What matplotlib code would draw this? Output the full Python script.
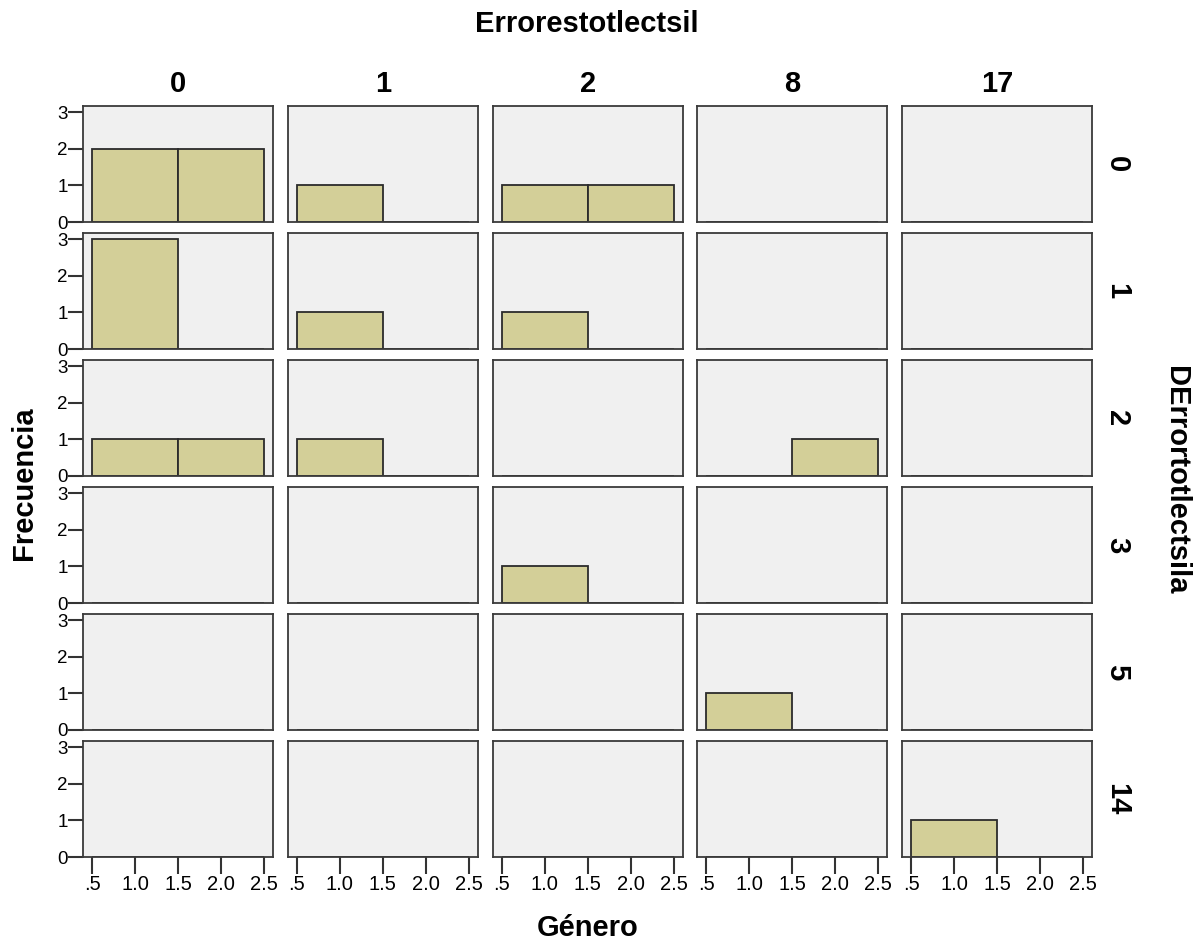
import numpy as np
import matplotlib.pyplot as plt

plt.rcParams['font.family'] = ['Liberation Sans', 'DejaVu Sans']

# panel facets
col_vals = ['0', '1', '2', '8', '17']          # Errorestotlectsil
row_vals = ['0', '1', '2', '3', '5', '14']     # DErrortotlectsila
genero = [1, 2]

# frequency of Género (1, 2) for each row/column cell
counts_r0 = [[2, 2], [1, 0], [1, 1], [0, 0], [0, 0]]
counts_r1 = [[3, 0], [1, 0], [1, 0], [0, 0], [0, 0]]
counts_r2 = [[1, 1], [1, 0], [0, 0], [0, 1], [0, 0]]
counts_r3 = [[0, 0], [0, 0], [1, 0], [0, 0], [0, 0]]
counts_r5 = [[0, 0], [0, 0], [0, 0], [1, 0], [0, 0]]
counts_r14 = [[0, 0], [0, 0], [0, 0], [0, 0], [1, 0]]
counts = [counts_r0, counts_r1, counts_r2, counts_r3, counts_r5, counts_r14]

xticks = [0.5, 1.0, 1.5, 2.0, 2.5]
xticklabels = ['.5', '1.0', '1.5', '2.0', '2.5']
yticks = [0, 1, 2, 3]

W, H = 1201, 940
fig = plt.figure(figsize=(W / 100, H / 100), dpi=100)

left0, col_step, pw = 83, 204.8, 190
top0, row_step, ph = 106, 127, 116

bar_color = '#d3cf98'
bg = '#f0f0f0'
label_size = 21


def fx(px):
    return px / W


def fy(py):
    return 1 - py / H


for r in range(len(row_vals)):
    for c in range(len(col_vals)):
        x0 = left0 + c * col_step
        y0 = top0 + r * row_step
        ax = fig.add_axes([fx(x0), fy(y0 + ph), pw / W, ph / H])
        ax.set_facecolor(bg)
        vals = counts[r][c]
        ax.bar(genero, vals, width=1.0, color=bar_color, edgecolor='#2b2b2b',
               linewidth=1.3)
        ax.set_xlim(0.395, 2.605)
        ax.set_ylim(0, 3.17)
        for s in ax.spines.values():
            s.set_color('#3a3a3a')
            s.set_linewidth(1.3)
        ax.set_xticks(xticks)
        ax.set_yticks(yticks)
        ax.tick_params(axis='x', length=12, width=1.5, color='#333333',
                       labelsize=14.5, pad=1)
        ax.tick_params(axis='y', length=11, width=1.5, color='#333333',
                       labelsize=13.5, pad=0)
        if c == 0:
            ax.set_yticklabels([str(t) for t in yticks])
        else:
            ax.tick_params(axis='y', left=False, labelleft=False)
        if r == len(row_vals) - 1:
            ax.set_xticklabels(xticklabels)
        else:
            ax.tick_params(axis='x', bottom=False, labelbottom=False)

    # row facet label
    fig.text(fx(1117), fy(top0 + r * row_step + ph / 2), row_vals[r],
             rotation=-90, ha='center', va='center',
             fontsize=label_size, fontweight='bold')

# column facet labels
for c in range(len(col_vals)):
    fig.text(fx(left0 + c * col_step + pw / 2), fy(92), col_vals[c],
             ha='center', va='baseline', fontsize=label_size, fontweight='bold')

fig.text(fx(587), fy(32), 'Errorestotlectsil', ha='center', va='baseline',
         fontsize=label_size, fontweight='bold')
fig.text(fx(588), fy(936), 'Género', ha='center', va='baseline',
         fontsize=label_size, fontweight='bold')
fig.text(fx(24), fy(483), 'Frecuencia', ha='center', va='center',
         rotation=90, fontsize=label_size, fontweight='bold')
fig.text(fx(1176), fy(480), 'DErrortotlectsila', ha='center', va='center',
         rotation=-90, fontsize=label_size, fontweight='bold')

fig.savefig('out.png', dpi=100, facecolor='white')
